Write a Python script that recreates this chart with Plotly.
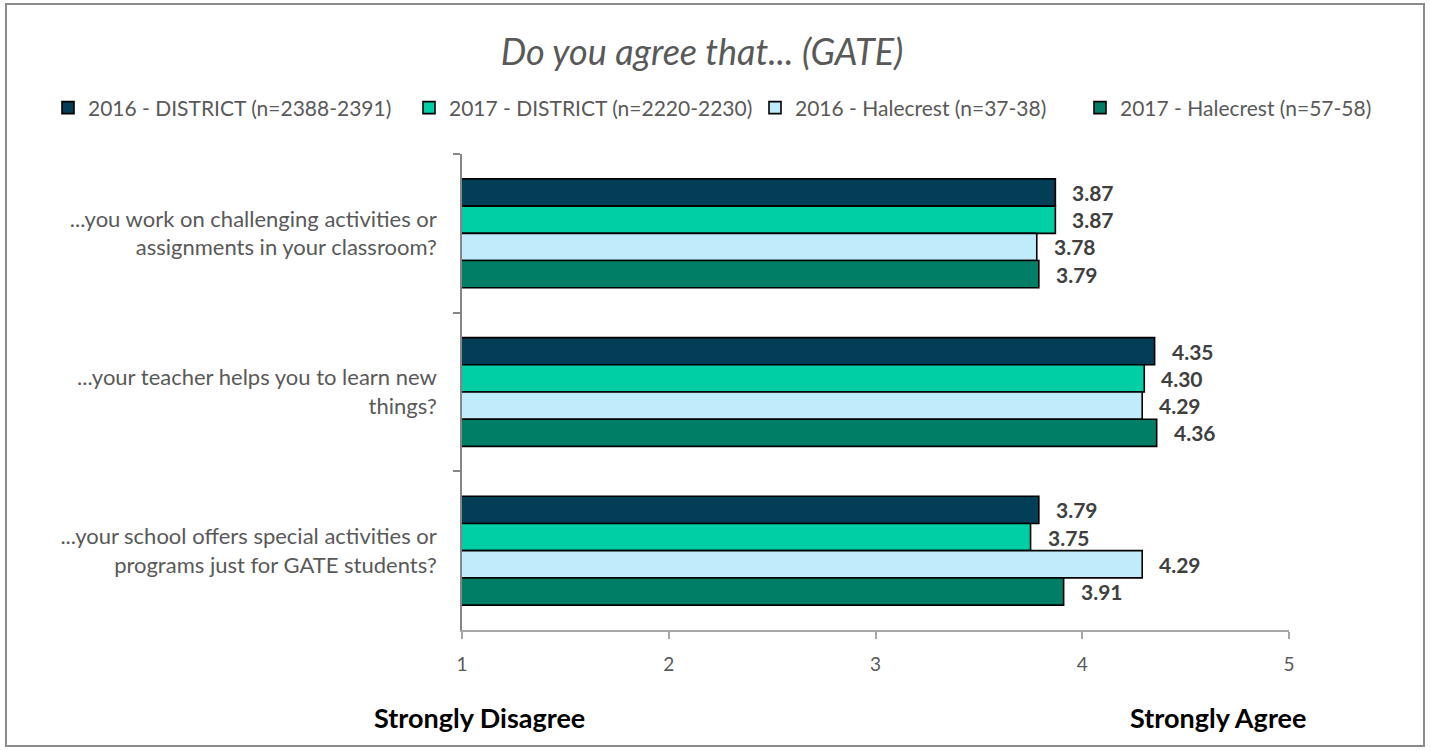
import plotly.graph_objects as go

categories = [
    "...you work on challenging activities or<br>assignments in your classroom?",
    "...your teacher helps you to learn new<br>things?",
    "...your school offers special activities or<br>programs just for GATE students?",
]
series_names = [
    "2016 - DISTRICT (n=2388-2391)",
    "2017 - DISTRICT (n=2220-2230)",
    "2016 - Halecrest (n=37-38)",
    "2017 - Halecrest (n=57-58)",
]
district_2016 = [3.87, 4.35, 3.79]
district_2017 = [3.87, 4.30, 3.75]
halecrest_2016 = [3.78, 4.29, 4.29]
halecrest_2017 = [3.79, 4.36, 3.91]
series_values = [district_2016, district_2017, halecrest_2016, halecrest_2017]
colors = ["#023F56", "#00CFA6", "#BFEBFB", "#007F66"]
x_ticks = [1, 2, 3, 4, 5]

W, H = 1431, 751
ML, MR, MT, MB = 462, 142, 154, 121
PW, PH = W - ML - MR, H - MT - MB
BARGAP = 0.314
FONT = "Lato, 'Open Sans', sans-serif"
legend_left_px = [48, 409, 755, 1080]
legend_keys = ["legend", "legend2", "legend3", "legend4"]

fig = go.Figure()
for name, vals, col, lk in zip(series_names, series_values, colors, legend_keys):
    fig.add_trace(go.Bar(
        y=categories, x=vals, name=name, orientation="h", base=0, legend=lk,
        marker=dict(color=col, line=dict(color="#000000", width=1.6)),
    ))

# value labels
n = len(series_values)
slot = (1 - BARGAP) / n
annotations = []
for i, vals in enumerate(series_values):
    off = (i - (n - 1) / 2) * slot
    for j, v in enumerate(vals):
        annotations.append(dict(
            x=v, y=j + off, xref="x", yref="y", text=f"{v:.2f}",
            showarrow=False, xanchor="left", yanchor="middle", xshift=15,
            font=dict(family=FONT, size=21, color="#404040", weight="bold"),
        ))

def px_x(p):
    return (p - ML) / PW

def px_y(p):
    return (H - MB - p) / PH

annotations.append(dict(x=px_x(479), y=px_y(717), xref="paper", yref="paper",
                        text="<b>Strongly Disagree</b>", showarrow=False,
                        xanchor="center", yanchor="middle",
                        font=dict(family=FONT, size=27, color="#000000")))
annotations.append(dict(x=px_x(1218), y=px_y(717), xref="paper", yref="paper",
                        text="<b>Strongly Agree</b>", showarrow=False,
                        xanchor="center", yanchor="middle",
                        font=dict(family=FONT, size=27, color="#000000")))

legend_common = dict(orientation="h", xanchor="left", yanchor="middle",
                     xref="container", yref="container",
                     font=dict(family=FONT, size=21, color="#595959"),
                     itemclick=False, itemdoubleclick=False, bgcolor="rgba(0,0,0,0)")
legends = {}
for lk, lx in zip(legend_keys, legend_left_px):
    legends[lk] = dict(legend_common, x=lx / W, y=1 - 108 / H)

fig.update_layout(
    width=W, height=H,
    margin=dict(l=ML, r=MR, t=MT, b=MB),
    paper_bgcolor="white", plot_bgcolor="white",
    barmode="group", bargap=BARGAP, bargroupgap=0,
    title=dict(text="<i>Do you agree that... (GATE)</i>", x=702 / W, xanchor="center",
               y=1 - 52 / H, yanchor="middle", xref="container", yref="container",
               font=dict(family=FONT, size=36, color="#595959")),
    xaxis=dict(range=[1, 5], tickvals=x_ticks, showgrid=False, zeroline=False,
               showline=True, linecolor="#A6A6A6", linewidth=2,
               ticks="outside", ticklen=7, tickcolor="#A6A6A6", tickwidth=1.5,
               tickfont=dict(family=FONT, size=19, color="#595959"), ticklabelstandoff=9),
    yaxis=dict(autorange="reversed", showgrid=False, zeroline=False,
               showline=True, linecolor="#868686", linewidth=1.5,
               ticks="outside", ticklen=7, tickcolor="#868686", tickwidth=1.5,
               tickson="boundaries",
               tickfont=dict(family=FONT, size=22, color="#595959"), ticklabelstandoff=19),
    annotations=annotations,
    shapes=[dict(type="rect", xref="paper", yref="paper",
                 x0=px_x(6), x1=px_x(1424), y0=px_y(746), y1=px_y(4),
                 line=dict(color="#8C8C8C", width=2), fillcolor="rgba(0,0,0,0)", layer="below")],
    showlegend=True,
    **legends,
)

fig.write_html("out.html", config={"displayModeBar": False},
               post_script="document.body.style.margin='0';document.body.style.overflow='hidden';")
